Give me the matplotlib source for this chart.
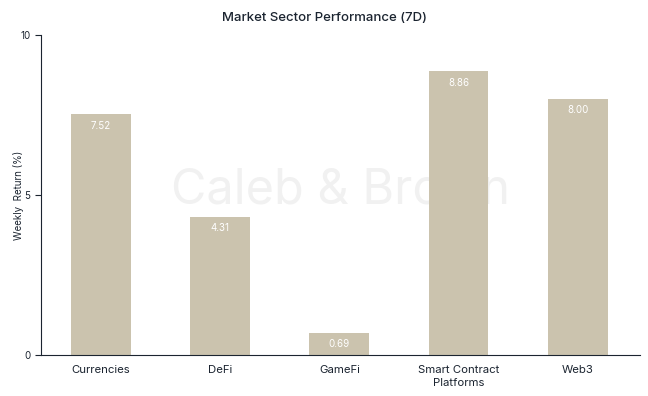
import matplotlib
matplotlib.use("Agg")
import matplotlib.pyplot as plt

# sector returns, 7 day
sectors = ["Currencies", "DeFi", "GameFi", "Smart Contract\nPlatforms", "Web3"]
weekly_return = [7.52, 4.31, 0.69, 8.86, 8.00]
y_ticks = [0, 5, 10]

bar_color = "#cbc3ae"
text_color = "#1b2430"

plt.rcParams['font.family'] = ['Inter', 'DejaVu Sans']

fig = plt.figure(figsize=(6.48, 3.96), dpi=100)
ax = fig.add_axes([0.0633, 0.1035, 0.9244, 0.8081])

# watermark behind the bars
ax.text(0.5, 0.515, "Caleb & Brown", fontsize=35, color="#f1f1f1",
        ha="center", va="center", transform=ax.transAxes, zorder=1)

x = range(len(sectors))
bars = ax.bar(x, weekly_return, width=0.5, color=bar_color, zorder=2)

for b, v in zip(bars, weekly_return):
    ax.text(b.get_x() + b.get_width() / 2, v - 0.2, f"{v:.2f}",
            ha="center", va="top", color="white", fontsize=7, zorder=3)

ax.set_xlim(-0.5, 4.52)
ax.set_ylim(0, 10)
ax.set_xticks(list(x))
ax.set_xticklabels(sectors, fontsize=8.2, color=text_color, linespacing=1.45)
ax.set_yticks(y_ticks)
ax.set_yticklabels([str(t) for t in y_ticks], fontsize=7, color=text_color)
ax.tick_params(axis="x", length=0, pad=7)
ax.tick_params(axis="y", length=4, width=0.8, color=text_color)

ax.spines["top"].set_visible(False)
ax.spines["right"].set_visible(False)
ax.spines["left"].set_color(text_color)
ax.spines["bottom"].set_color(text_color)

ax.set_ylabel("Weekly  Return (%)", fontsize=7, color=text_color)
ax.yaxis.set_label_coords(-0.028, 0.5)
fig.suptitle("Market Sector Performance (7D)", fontsize=9.5, color=text_color,
             y=0.97, fontweight="medium")

fig.savefig("out.png", dpi=100)
